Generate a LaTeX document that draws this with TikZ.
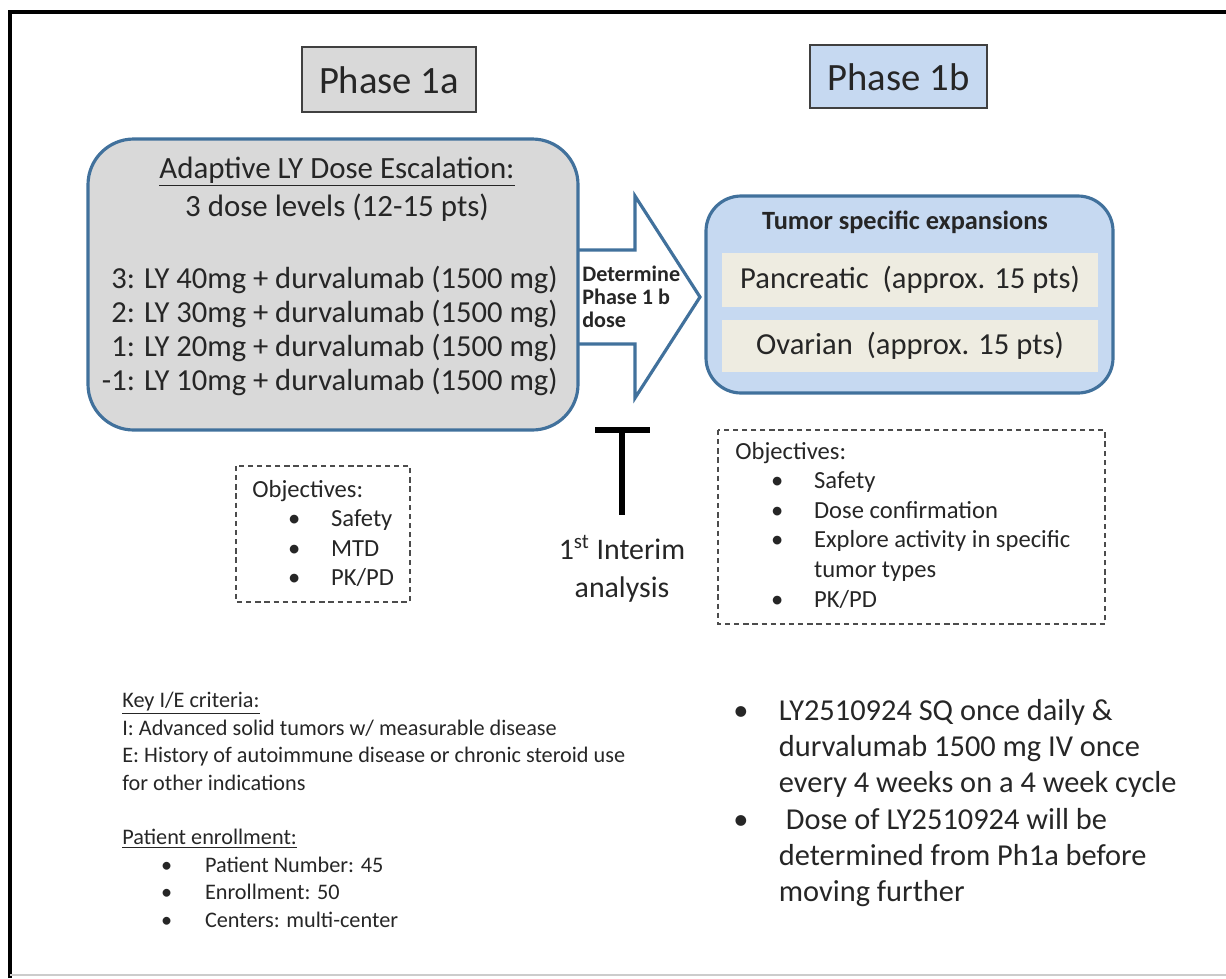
\documentclass[tikz,border=0pt]{standalone}
\usepackage{fontspec}
\setmainfont{Carlito}
\usetikzlibrary{positioning}

\definecolor{boxgray}{HTML}{D9D9D9}
\definecolor{phaseblue}{HTML}{C6D9F1}
\definecolor{edgeblue}{HTML}{41719C}
\definecolor{beige}{HTML}{EEECE1}
\definecolor{ink}{HTML}{262626}

\tikzset{
  phasebox/.style={draw=black!75, line width=1pt},
  bigbox/.style={draw=edgeblue, line width=1.8pt, rounded corners=26pt},
  objbox/.style={draw=black!70, line width=1pt, dash pattern=on 3pt off 2.2pt},
  txt/.style={inner sep=0pt, text=ink},
}
\newcommand{\bul}[1]{\makebox[#1][l]{\textbullet}}

\begin{document}
\begin{tikzpicture}[x=0.02cm, y=-0.02cm]
  \useasboundingbox (0,0) rectangle (1226,978);
  % frame
  \draw[line width=1.8pt] (10,978) -- (10,12) -- (1226,12);
  \draw[black!20, line width=0.6pt] (10,975) -- (1226,975);

  % phase headers
  \draw[phasebox, fill=boxgray] (302,47) rectangle (476,112);
  \node[txt, font=\fontsize{22}{26}\selectfont] (ph1a) at (389,80) {Phase 1a};
  \draw[phasebox, fill=phaseblue] (810,45) rectangle (987,108);
  \node[txt, font=\fontsize{22}{26}\selectfont] (ph1b) at (898.5,77) {Phase 1b};

  % block arrow
  \draw[edgeblue, line width=1.8pt, fill=white, line join=miter]
    (570,250) -- (635,250) -- (635,196) -- (700,297) -- (635,398) -- (635,344) -- (570,344);
  \node[txt, anchor=west, align=left, font=\bfseries\fontsize{12.6}{13.2}\selectfont] (det) at (582,297)
    {Determine\\Phase 1 b\\dose};

  % phase 1a box
  \draw[bigbox, fill=boxgray] (88,139) rectangle (578,430);
  \node[txt, align=center, font=\fontsize{17.6}{21.5}\selectfont] (esc) at (337,189)
    {\underline{Adaptive LY Dose Escalation:}\\3 dose levels (12-15 pts)};
  \node[txt, anchor=east, align=right, font=\fontsize{17.4}{19.5}\selectfont] (doses) at (558,331)
    {3: LY 40mg + durvalumab (1500 mg)\\
     2: LY 30mg + durvalumab (1500 mg)\\
     1: LY 20mg + durvalumab (1500 mg)\\
     -1: LY 10mg + durvalumab (1500 mg)};

  % phase 1b box
  \draw[bigbox, rounded corners=20pt, fill=phaseblue] (706,196) rectangle (1113,393);
  \node[txt, font=\bfseries\fontsize{15}{17}\selectfont] (tse) at (905,222) {Tumor specific expansions};
  \fill[beige] (722,253) rectangle (1098,307);
  \node[txt, font=\fontsize{17.4}{20}\selectfont] (panc) at (910,280) {Pancreatic\ \ (approx. 15 pts)};
  \fill[beige] (722,320) rectangle (1098,372);
  \node[txt, font=\fontsize{17.4}{20}\selectfont] (ovar) at (910,346) {Ovarian\ \ (approx. 15 pts)};

  % interim marker
  \draw[line width=3.4pt] (595,430) -- (650,430);
  \draw[line width=3.4pt] (622,430) -- (622,515);
  \node[txt, align=center, font=\fontsize{17}{21.5}\selectfont] (interim) at (622,569)
    {1\textsuperscript{st} Interim\\analysis};

  % objectives
  \draw[objbox] (236,466) rectangle (410,602);
  \node[txt, anchor=north west, align=left, font=\fontsize{14}{16.8}\selectfont] (obja) at (252,480)
    {Objectives:\\
     \hspace*{1.45em}\bul{1.75em}Safety\\
     \hspace*{1.45em}\bul{1.75em}MTD\\
     \hspace*{1.45em}\bul{1.75em}PK/PD};
  \draw[objbox] (718,430) rectangle (1105,624);
  \node[txt, anchor=north west, align=left, font=\fontsize{14}{16.8}\selectfont] (objb) at (735,442)
    {Objectives:\\
     \hspace*{1.45em}\bul{1.75em}Safety\\
     \hspace*{1.45em}\bul{1.75em}Dose confirmation\\
     \hspace*{1.45em}\bul{1.75em}Explore activity in specific\\
     \hspace*{3.2em}tumor types\\
     \hspace*{1.45em}\bul{1.75em}PK/PD};

  % criteria and enrollment
  \node[txt, anchor=north west, align=left, font=\fontsize{12.65}{15.6}\selectfont] (crit) at (122,692)
    {\underline{Key I/E criteria:}\\
     I: Advanced solid tumors w/ measurable disease\\
     E: History of autoimmune disease or chronic steroid use\\
     for other indications\\[15.6pt]
     \underline{Patient enrollment:}\\
     \hspace*{1.75em}\bul{1.97em}Patient Number: 45\\
     \hspace*{1.75em}\bul{1.97em}Enrollment: 50\\
     \hspace*{1.75em}\bul{1.97em}Centers: multi-center};

  % dosing notes
  \node[txt, anchor=north west, align=left, font=\fontsize{17.3}{20.6}\selectfont] (dosing) at (733,699)
    {\bul{1.5em}LY2510924 SQ once daily \&\\
     \hspace*{1.5em}durvalumab 1500 mg IV once\\
     \hspace*{1.5em}every 4 weeks on a 4 week cycle\\
     \bul{1.5em}\ Dose of LY2510924 will be\\
     \hspace*{1.5em}determined from Ph1a before\\
     \hspace*{1.5em}moving further};
\end{tikzpicture}
\end{document}
